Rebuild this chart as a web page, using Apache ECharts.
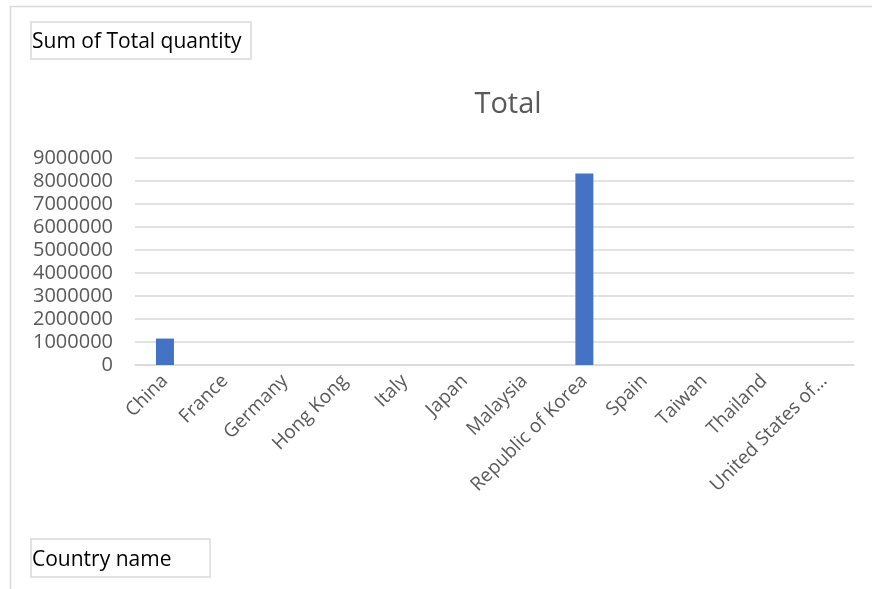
<!DOCTYPE html>
<html><head><meta charset="utf-8">
<script src="https://cdn.jsdelivr.net/npm/echarts@6/dist/echarts.min.js"></script>
<style>html,body{margin:0;padding:0;background:#fff}#c{width:872px;height:589px}</style>
</head><body><div id="c"></div>
<script>
const categories = ["China","France","Germany","Hong Kong","Italy","Japan","Malaysia","Republic of Korea","Spain","Taiwan","Thailand","United States of America"];
const totals = [1150000,0,0,0,0,0,0,8330000,0,0,0,0];
const yTicks = {min:0,max:9000000,interval:1000000};
const font = "'Open Sans', 'Liberation Sans', sans-serif";
const chart = echarts.init(document.getElementById('c'), null, {renderer:'canvas'});
chart.setOption({
  animation:false,
  title:{text:'Total',left:503,top:85,textAlign:'center',textStyle:{fontFamily:font,fontSize:29,fontWeight:'normal',color:'#595959'}},
  grid:{left:135,right:18,top:158,bottom:224,containLabel:false},
  xAxis:{type:'category',data:categories,
    axisLine:{lineStyle:{color:'#d9d9d9',width:1.5}},axisTick:{show:false},
    axisLabel:{rotate:45,interval:0,margin:13,fontFamily:font,fontSize:19,color:'#595959',
      formatter:v=>v.length>18?v.slice(0,16)+'…':v}},
  yAxis:{type:'value',min:yTicks.min,max:yTicks.max,interval:yTicks.interval,
    axisLine:{show:false},axisTick:{show:false},
    splitLine:{lineStyle:{color:'#d9d9d9',width:1.5}},
    axisLabel:{margin:22,fontFamily:font,fontSize:20,color:'#595959',formatter:v=>String(v)}},
  series:[{type:'bar',data:totals,barWidth:18,itemStyle:{color:'#4472c4'}}],
  graphic:[
    {type:'rect',shape:{x:10.5,y:6.5,width:880,height:620},style:{fill:'none',stroke:'#d9d9d9',lineWidth:1.5},silent:true},
    {type:'rect',shape:{x:31,y:22,width:220,height:37},style:{fill:'#fff',stroke:'#d9d9d9',lineWidth:1.5}},
    {type:'text',x:32,y:42,style:{text:'Sum of Total quantity',fontFamily:font,fontSize:21,fill:'#000',verticalAlign:'middle'}},
    {type:'rect',shape:{x:31,y:539,width:179,height:38},style:{fill:'#fff',stroke:'#d9d9d9',lineWidth:1.5}},
    {type:'text',x:32,y:560,style:{text:'Country name',fontFamily:font,fontSize:21,fill:'#000',verticalAlign:'middle'}}
  ]
});
</script></body></html>
